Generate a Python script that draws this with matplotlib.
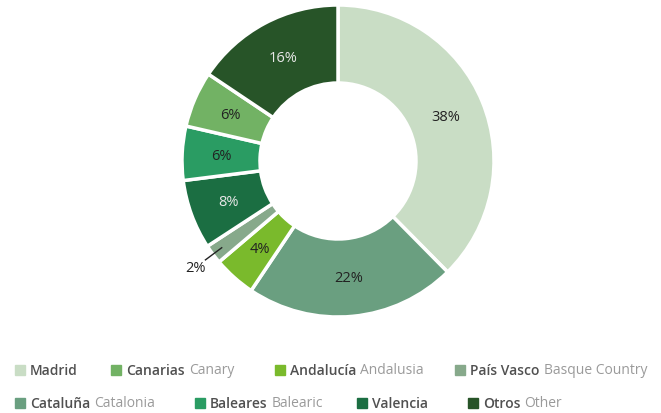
import matplotlib
matplotlib.use("Agg")
import numpy as np
import matplotlib.pyplot as plt
from matplotlib.patches import Rectangle

plt.rcParams['font.family'] = ['Open Sans', 'DejaVu Sans']

# slices, clockwise from 12 o'clock
slices = ['Madrid', 'Cataluña', 'Andalucía', 'País Vasco', 'Valencia', 'Baleares', 'Canarias', 'Otros']
shares = [37.6, 21.8, 4.4, 2.0, 7.2, 5.6, 5.8, 15.6]
pct_labels = ['38%', '22%', '4%', '2%', '8%', '6%', '6%', '16%']
colors = ['#c9ddc5', '#6a9f80', '#7aba2c', '#87a98b', '#1b6e42', '#2a9c63', '#72b264', '#275428']
text_colors = ['#222222', '#222222', '#222222', '#222222', '#e8e8e8', '#222222', '#222222', '#e8e8e8']

# legend (flow order)
legend_es = ['Madrid', 'Canarias', 'Andalucía', 'País Vasco', 'Cataluña', 'Baleares', 'Valencia', 'Otros']
legend_en = ['', 'Canary', 'Andalusia', 'Basque Country', 'Catalonia', 'Balearic', '', 'Other']

fig = plt.figure(figsize=(6.61, 4.14), dpi=100)
W, H = 661, 414
cx, cy, R = 338, 162, 156
ax = fig.add_axes([(cx - R) / W, (H - cy - R) / H, 2 * R / W, 2 * R / H])

wedges, _ = ax.pie(shares, colors=colors, startangle=90, counterclock=False,
                   wedgeprops=dict(width=0.5, edgecolor='white', linewidth=2.5))
ax.set_xlim(-1, 1)
ax.set_ylim(-1, 1)
ax.set_aspect('equal')

for w, lab, tc in zip(wedges, pct_labels, text_colors):
    ang = np.deg2rad((w.theta1 + w.theta2) / 2)
    x, y = np.cos(ang), np.sin(ang)
    if lab == '2%':
        # small slice: label outside with a short leader
        ax.plot([0.93 * x, 1.06 * x], [0.93 * y, 1.06 * y], color='#222222', lw=1, zorder=5)
        ax.text(1.14 * x, 1.14 * y, lab, ha='center', va='center', fontsize=10.5, color=tc)
    else:
        ax.text(0.75 * x, 0.75 * y, lab, ha='center', va='center', fontsize=10.5, color=tc)

# legend drawn by hand so the two languages sit on one line
rows = [(371, [15, 111, 275, 455]), (404, [15, 195, 357, 468])]
fig.canvas.draw()
renderer = fig.canvas.get_renderer()
k = 0
for y, xs in rows:
    for x in xs:
        fig.patches.append(Rectangle((x / W, (H - y - 5) / H), 10 / W, 10 / H,
                                     transform=fig.transFigure, color=colors[slices.index(legend_es[k])]))
        t = fig.text((x + 15) / W, (H - y) / H, legend_es[k], fontsize=10, fontweight='semibold',
                     color='#505050', va='center', ha='left')
        bb = t.get_window_extent(renderer)
        if legend_en[k]:
            fig.text((bb.x1 + 4) / W, (H - y) / H, legend_en[k], fontsize=10,
                     color='#9a9a9a', va='center', ha='left')
        k += 1

fig.savefig('out.png', dpi=100)
